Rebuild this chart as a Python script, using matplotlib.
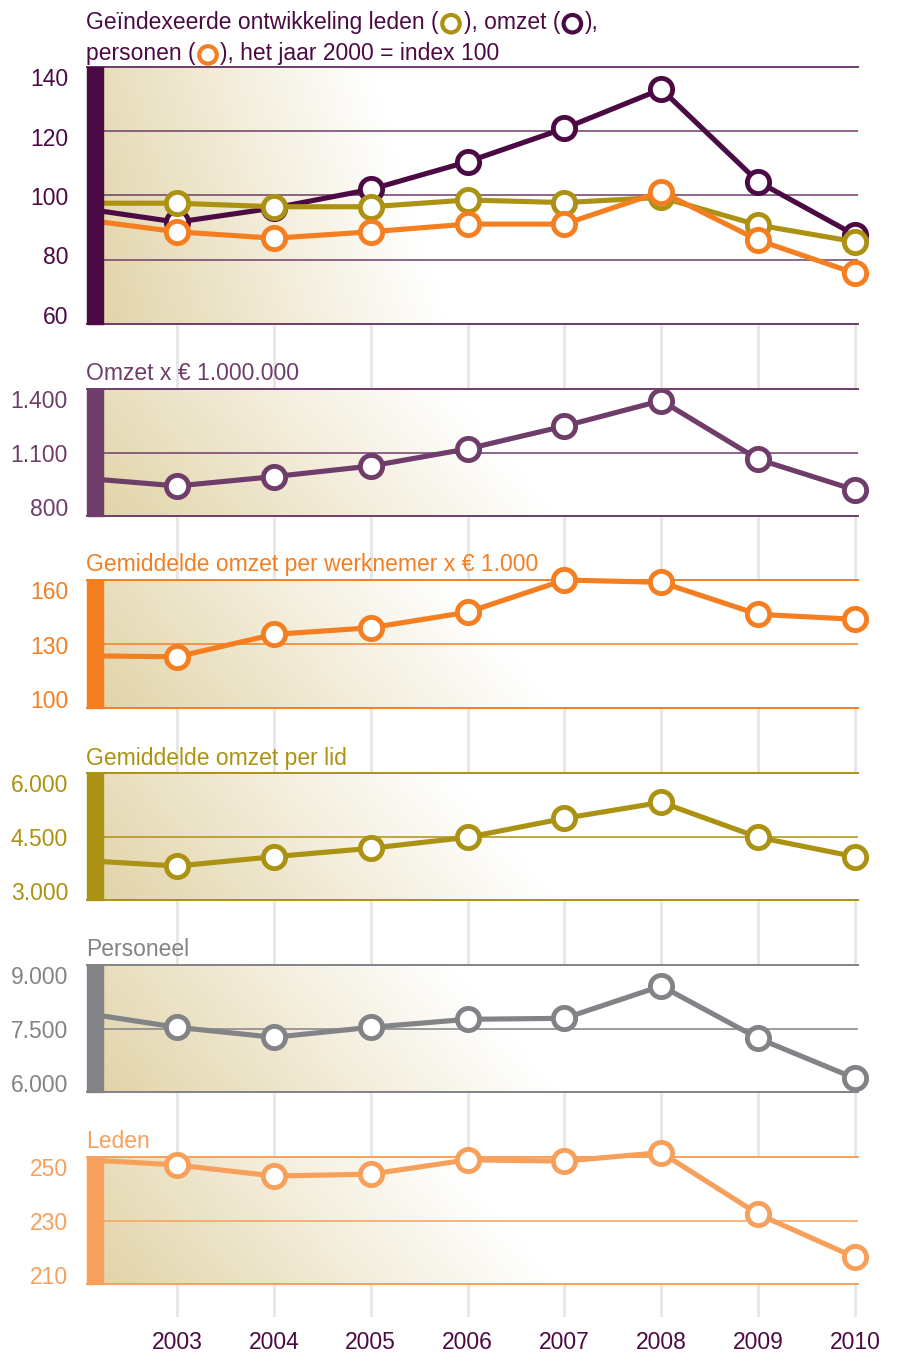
import numpy as np
import matplotlib
matplotlib.use("Agg")
import matplotlib.pyplot as plt
import matplotlib.transforms as mtransforms
from matplotlib import font_manager
from matplotlib.patches import Rectangle, Circle
from matplotlib.offsetbox import TextArea, DrawingArea, HPacker, VPacker, AnnotationBbox

years = [2002, 2003, 2004, 2005, 2006, 2007, 2008, 2009, 2010]
year_labels = ["2003", "2004", "2005", "2006", "2007", "2008", "2009", "2010"]

index_leden = [97.6, 97.6, 96.5, 96.5, 98.6, 97.8, 99.4, 90.8, 85.6]
index_omzet = [96.1, 91.7, 96.1, 101.9, 110.5, 120.9, 133.1, 104.3, 87.7]
index_personen = [92.6, 88.7, 86.7, 88.7, 91.1, 91.1, 101.2, 86.1, 75.8]
omzet = [980, 942, 986, 1036, 1117, 1225, 1345, 1068, 923]
omzet_per_werknemer = [124.5, 124.0, 134.5, 137.6, 144.9, 160.0, 158.9, 143.9, 141.6]
omzet_per_lid = [3937, 3803, 4023, 4221, 4481, 4929, 5307, 4481, 4023]
personeel = [7878, 7528, 7292, 7528, 7717, 7741, 8504, 7268, 6323]
leden = [249.2, 247.5, 244.0, 244.6, 249.1, 248.7, 251.4, 232.0, 218.4]

dark = "#4c0a44"
plum = "#6e3d6a"
orange = "#f47e20"
olive = "#ac9212"
gray = "#828387"
lorange = "#f7a05c"

names = {f.name for f in font_manager.fontManager.ttflist}
if "Liberation Sans Narrow" in names:
    fam, fs = "Liberation Sans Narrow", 18.5
elif "Liberation Sans" in names:
    fam, fs = "Liberation Sans", 16.5
else:
    fam, fs = "DejaVu Sans", 15
plt.rcParams["font.family"] = [fam, "DejaVu Sans"]

W, H = 898, 1353
fig = plt.figure(figsize=(W / 100, H / 100), dpi=100)
x0, x1 = 87, 858
xlim = (2002.071, 2010.031)


def px_axes(top, bottom):
    return [x0 / W, 1 - bottom / H, (x1 - x0) / W, (bottom - top) / H]


# light vertical year lines behind all panels
bg = fig.add_axes(px_axes(67, 1317), zorder=0)
bg.set_xlim(*xlim)
bg.set_ylim(0, 1)
bg.axis("off")
bg.vlines(years[1:], 0, 1, color="#e6e6e6", lw=2)


def gradient(h, a, s_end):
    w = x1 - x0
    xx = np.arange(w)[None, :]
    yy = np.arange(h)[:, None]
    f = np.clip(1 - (xx + a * yy) / s_end, 0, 1)
    tan = np.array([225, 211, 166]) / 255
    return 1 - f[..., None] * (1 - tan)


def panel(top, bottom, ylim, ticks, labels, color, gridc, labc, title, a, s_end):
    ax = fig.add_axes(px_axes(top, bottom), zorder=1)
    ax.set_xlim(*xlim)
    ax.set_ylim(*ylim)
    ax.imshow(gradient(bottom - top, a, s_end), extent=[0, 1, 0, 1], transform=ax.transAxes,
              origin="lower", aspect="auto", zorder=0, interpolation="bilinear")
    ax.set_xticks([])
    ax.set_yticks([])
    for s in ["left", "right"]:
        ax.spines[s].set_visible(False)
    for s in ["top", "bottom"]:
        ax.spines[s].set_color(gridc)
        ax.spines[s].set_linewidth(1.4)
    for v in ticks[1:-1]:
        ax.axhline(v, color=gridc, lw=1.1, zorder=1)
    ax.add_patch(Rectangle((0, 0), 16 / (x1 - x0), 1, transform=ax.transAxes,
                           color=color, zorder=5, clip_on=False))
    lo, hi = ylim
    for v, lab in zip(ticks, labels):
        t = (v - lo) / (hi - lo)
        tr = mtransforms.blended_transform_factory(ax.transAxes, ax.transData) + \
            mtransforms.ScaledTranslation(-0.19, -0.19 * t, fig.dpi_scale_trans)
        ax.text(0, v, lab, transform=tr, ha="right", va="baseline", color=labc,
                size=fs, clip_on=False)
    if title:
        tr = ax.transAxes + mtransforms.ScaledTranslation(-0.01, 0.085, fig.dpi_scale_trans)
        ax.text(0, 1, title, transform=tr, ha="left", va="baseline", color=color, size=fs)
    return ax


def series(ax, vals, color, z=3):
    ln, = ax.plot(years, vals, color=color, lw=3.7, marker="o", ms=16, mew=3.5,
                  mfc="white", mec=color, markevery=slice(1, None), zorder=z,
                  solid_joinstyle="round")
    ln.set_clip_path(Rectangle((0, -0.3), 1.1, 1.6, transform=ax.transAxes))


ax1 = panel(67, 324, (60, 140), [60, 80, 100, 120, 140], ["60", "80", "100", "120", "140"],
            dark, plum, dark, None, 0.3, 360)
series(ax1, index_omzet, dark, 3)
series(ax1, index_leden, olive, 3.1)
series(ax1, index_personen, orange, 3.2)

ax2 = panel(389, 516, (800, 1400), [800, 1100, 1400], ["800", "1.100", "1.400"],
            plum, plum, plum, "Omzet x € 1.000.000", 0.85, 470)
series(ax2, omzet, plum)

ax3 = panel(580, 708, (100, 160), [100, 130, 160], ["100", "130", "160"],
            orange, orange, orange, "Gemiddelde omzet per werknemer x € 1.000", 0.85, 470)
series(ax3, omzet_per_werknemer, orange)

ax4 = panel(773, 900, (3000, 6000), [3000, 4500, 6000], ["3.000", "4.500", "6.000"],
            olive, olive, olive, "Gemiddelde omzet per lid", 0.85, 470)
series(ax4, omzet_per_lid, olive)

ax5 = panel(965, 1092, (6000, 9000), [6000, 7500, 9000], ["6.000", "7.500", "9.000"],
            gray, gray, gray, "Personeel", 0.85, 470)
series(ax5, personeel, gray)

ax6 = panel(1157, 1284, (210, 250), [210, 230, 250], ["210", "230", "250"],
            lorange, lorange, lorange, "Leden", 0.85, 470)
series(ax6, leden, lorange)

# year labels under the last panel
ytr = mtransforms.blended_transform_factory(ax6.transData, ax6.transAxes) + \
    mtransforms.ScaledTranslation(0, -0.65, fig.dpi_scale_trans)
for yr, lab in zip(years[1:], year_labels):
    ax6.text(yr, 0, lab, transform=ytr, ha="center", va="baseline", color=dark,
             size=fs, clip_on=False)


# two-line title of the index panel with ring symbols
def ring(color):
    da = DrawingArea(16, 16, 0, 4)
    da.add_artist(Circle((8, 3.8), 6.3, facecolor="white", edgecolor=color, lw=3))
    return da


tp = dict(color=dark, size=fs)
line1 = HPacker(children=[TextArea("Geïndexeerde ontwikkeling leden (", textprops=tp), ring(olive),
                          TextArea("), omzet (", textprops=tp), ring(dark),
                          TextArea("),", textprops=tp)], align="baseline", pad=0, sep=1)
line2 = HPacker(children=[TextArea("personen (", textprops=tp), ring(orange),
                          TextArea("), het jaar 2000 = index 100", textprops=tp)],
                align="baseline", pad=0, sep=1)
head = VPacker(children=[line1, line2], align="left", pad=0, sep=5.5)
fig.add_artist(AnnotationBbox(head, (86 / W, 1 - 11 / H), xycoords="figure fraction",
                              box_alignment=(0, 1), frameon=False, pad=0))

fig.savefig("out.png", dpi=100)
